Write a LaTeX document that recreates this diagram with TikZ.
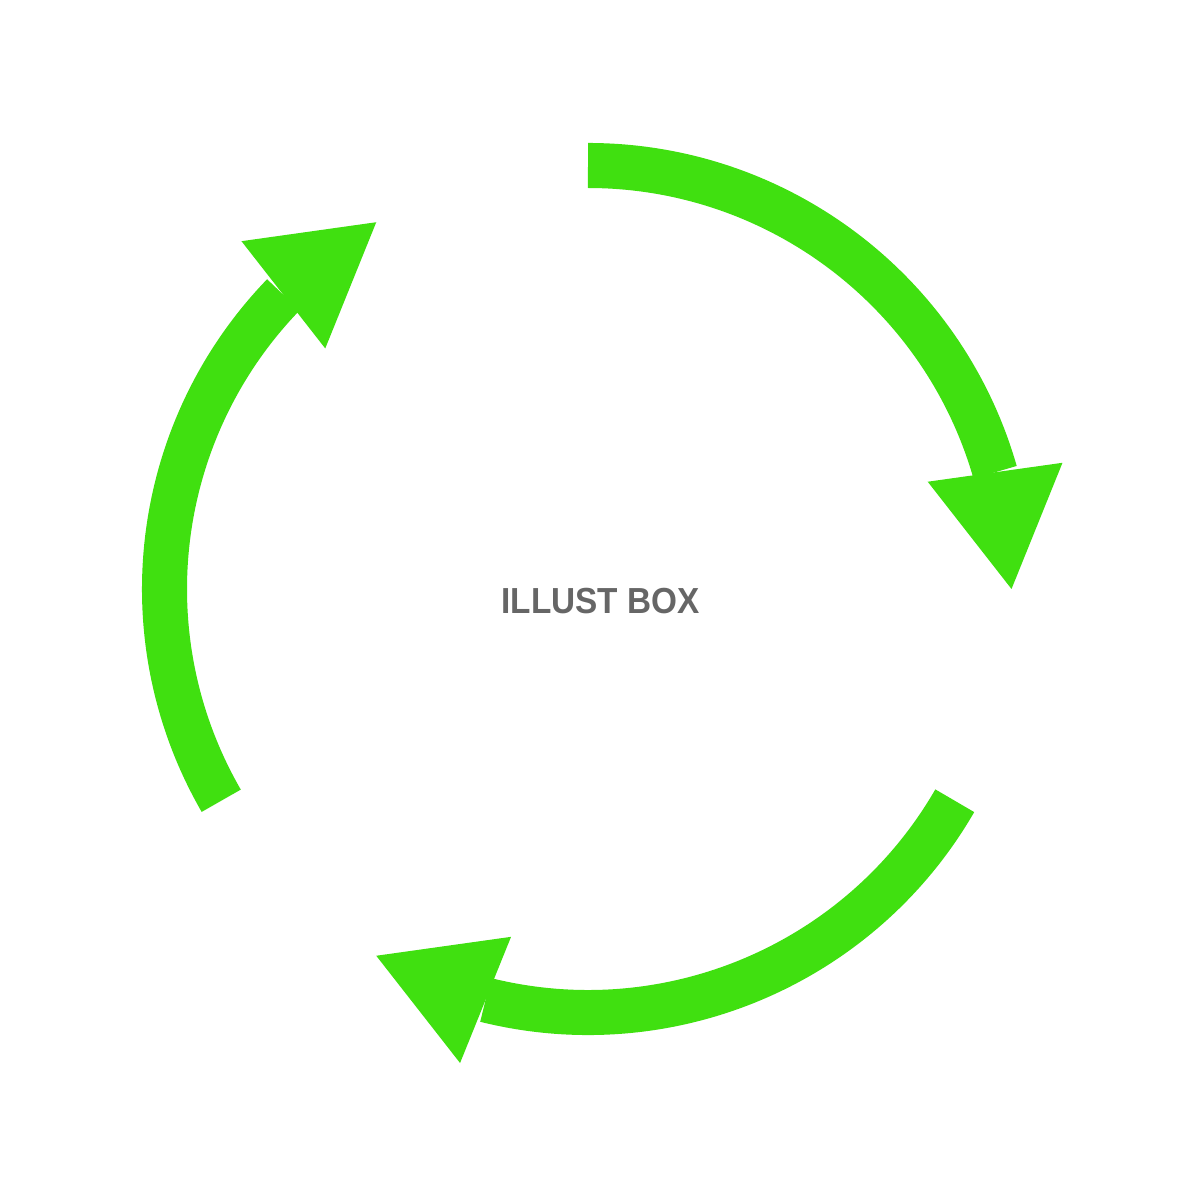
\documentclass[tikz,border=0pt]{standalone}
\usepackage{fontspec}
\setmainfont{Liberation Sans}
\usetikzlibrary{calc}
\definecolor{arrowgreen}{HTML}{40E010}
\definecolor{markgray}{HTML}{666666}
\tikzset{
  shaft/.style={draw=arrowgreen, line width=0.45cm, line cap=butt},
  headfill/.style={fill=arrowgreen},
  watermark/.style={text=markgray, font=\fontsize{10.3}{12}\selectfont\bfseries, inner sep=0pt, xscale=0.92}
}
\begin{document}
\begin{tikzpicture}[x=0.01cm,y=0.01cm]
\useasboundingbox[fill=white] (0,0) rectangle (1200,1200);
\coordinate (c) at (588,611);
\foreach \s [count=\i] in {90,210,330}{
  \pgfmathsetmacro{\b}{\s-74}
  \pgfmathsetmacro{\t}{\s-90}
  \coordinate (start\i) at ($(c)+(\s:423.5)$);
  \coordinate (base\i) at ($(c)+(\b:423.5)$);
  \coordinate (tip\i) at ($(c)+(\t:423.5)$);
  \draw[shaft] (start\i) arc[start angle=\s, end angle=\b, radius=423.5];
  \fill[headfill] ($(base\i)!0.68cm!90:(tip\i)$) -- (tip\i) -- ($(base\i)!0.68cm!-90:(tip\i)$) -- cycle;
}
\node[watermark] (label) at (600.5,599) {ILLUST BOX};
\end{tikzpicture}
\end{document}
